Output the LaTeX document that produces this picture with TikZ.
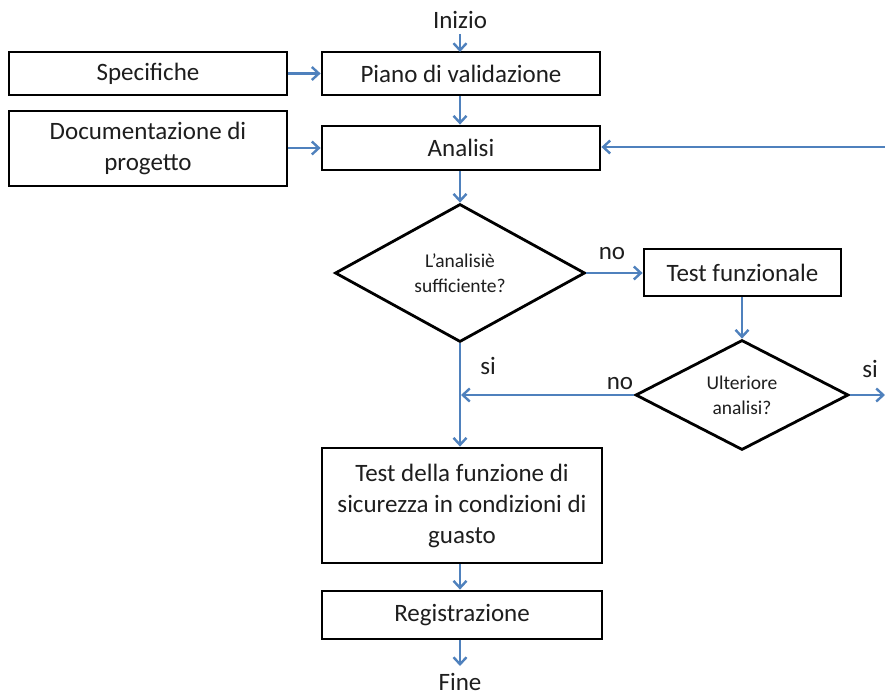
\documentclass[tikz,border=0pt]{standalone}
\usepackage{fontspec}
\setmainfont{Carlito}
\usetikzlibrary{shapes.geometric,arrows.meta}
\definecolor{lineblue}{RGB}{79,129,189}
\definecolor{txt}{RGB}{30,30,30}
\begin{document}
\begin{tikzpicture}[x=1pt,y=-1pt,
  box/.style={draw=black,line width=2.8pt,rectangle,inner sep=2pt,align=center,text=txt,font=\fontsize{25}{31}\selectfont},
  dec/.style={draw=black,line width=2.8pt,diamond,inner sep=0pt,align=center,text=txt,font=\fontsize{19.5}{25}\selectfont},
  lbl/.style={font=\fontsize{25}{30}\selectfont,inner sep=0pt,text=txt,anchor=base},
  conn/.style={draw=lineblue,line width=2.8pt,-{Straight Barb[length=7pt,width=13pt,line width=2.4pt]}}]
\useasboundingbox[fill=white] (0,0) rectangle (885,695);

\node[lbl] (inizio) at (460,29) {Inizio};
\node[box,minimum width=278pt,minimum height=43pt] (spec) at (148,73.5) {Specifiche};
\node[box,minimum width=278pt,minimum height=43pt] (piano) at (461,73.5) {Piano di validazione};
\node[box,minimum width=278pt,minimum height=75pt] (doc) at (148,148.5) {Documentazione di\\progetto};
\node[box,minimum width=278pt,minimum height=44pt] (analisi) at (461,148) {Analisi};
\node[dec,minimum width=250pt,minimum height=138pt] (d1) at (460,273) {L’analisiè\\sufficiente?};
\node[box,minimum width=197pt,minimum height=47pt] (tf) at (742.5,272.5) {Test funzionale};
\node[dec,minimum width=213pt,minimum height=110pt] (d2) at (742,395) {Ulteriore\\analisi?};
\node[box,minimum width=280pt,minimum height=115pt] (tdf) at (462,505.5) {Test della funzione di\\sicurezza in condizioni di\\guasto};
\node[box,minimum width=280pt,minimum height=48pt] (reg) at (462,615) {Registrazione};
\node[lbl] (fine) at (460,690) {Fine};

\coordinate (r1) at (885,147);
\coordinate (r2) at (885,395);
\coordinate (j) at (461,395);
\coordinate (fe) at (460,666);

\draw[conn] (460,34) -- (460,52);
\draw[conn] (spec.east) -- (piano.west);
\draw[conn] (piano.south -| 460,0) -- (analisi.north -| 460,0);
\draw[conn] (doc.east |- analisi.west) -- (analisi.west);
\draw[conn] (r1) -- (analisi.east |- r1);
\draw[conn] (analisi.south -| d1.north) -- (d1.north);
\draw[conn] (d1.east) -- (tf.west |- d1.east);
\draw[conn] (tf.south -| d2.north) -- (d2.north);
\draw[conn] (d2.east) -- (r2);
\draw[conn] (d2.west) -- (j);
\draw[conn] (d1.south) -- (d1.south |- tdf.north);
\draw[conn] (tdf.south -| d1.south) -- (d1.south |- reg.north);
\draw[conn] (reg.south -| fe) -- (fe);

\node[lbl] (no1) at (612,259) {no};
\node[lbl] (si1) at (488,374) {si};
\node[lbl] (no2) at (620,389) {no};
\node[lbl] (si2) at (870,377) {si};
\end{tikzpicture}
\end{document}
